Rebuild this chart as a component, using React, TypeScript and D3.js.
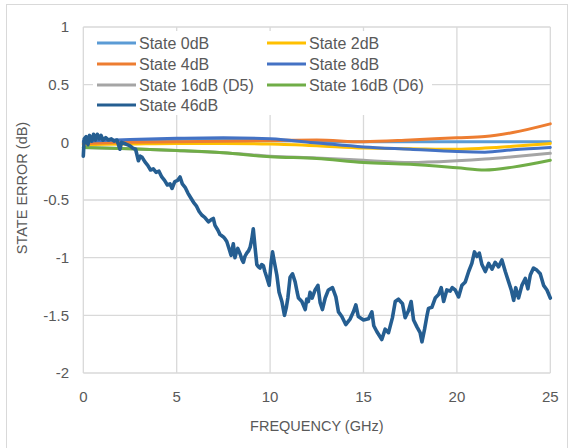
import React from 'react';
import * as d3 from 'd3';

const X_TICKS = [0, 5, 10, 15, 20, 25];
const Y_TICKS = [1, 0.5, 0, -0.5, -1, -1.5, -2];
const Y_TICK_LABELS = ['1', '0.5', '0', '-0.5', '-1', '-1.5', '-2'];
const X_TITLE = 'FREQUENCY (GHz)';
const Y_TITLE = 'STATE ERROR (dB)';

const SERIES_NAMES = ['State 0dB', 'State 2dB', 'State 4dB', 'State 8dB', 'State 16dB (D5)', 'State 16dB (D6)', 'State 46dB'];
const SERIES_COLORS = ['#5B9BD5', '#FFC000', '#ED7D31', '#4472C4', '#A5A5A5', '#70AD47', '#255E91'];

const FREQ_SMOOTH = [0, 2.5, 5, 7.5, 10, 12.5, 15, 17.5, 20, 21.5, 23, 25];
const STATE_0DB = [0.0, 0.015, 0.025, 0.03, 0.02, 0.01, 0.005, 0.005, 0.005, 0.005, 0.005, 0.005];
const STATE_2DB = [-0.02, -0.015, -0.01, -0.01, -0.015, -0.03, -0.05, -0.055, -0.06, -0.05, -0.035, -0.01];
const STATE_4DB = [-0.01, 0.0, 0.005, 0.01, 0.015, 0.02, 0.005, 0.02, 0.04, 0.05, 0.085, 0.16];
const STATE_8DB = [0.01, 0.025, 0.035, 0.04, 0.03, -0.005, -0.04, -0.06, -0.08, -0.085, -0.065, -0.045];
const STATE_16DB_D5 = [-0.045, -0.055, -0.07, -0.09, -0.12, -0.135, -0.155, -0.175, -0.16, -0.145, -0.125, -0.095];
const STATE_16DB_D6 = [-0.045, -0.055, -0.07, -0.09, -0.125, -0.14, -0.175, -0.19, -0.22, -0.24, -0.215, -0.155];

const FREQ_46 = [
  0, 0.05, 0.15, 0.25, 0.33, 0.45, 0.55, 0.65, 0.75, 0.85, 0.95, 1.05, 1.2, 1.35, 1.5, 1.65, 1.8, 1.96, 2.05, 2.2,
  2.35, 2.5, 2.65, 2.8, 2.95, 3.05, 3.15, 3.3, 3.45, 3.6, 3.75, 3.9, 4.05, 4.2, 4.35, 4.5, 4.64, 4.75, 4.9, 5.05,
  5.18, 5.3, 5.45, 5.6, 5.75, 5.9, 6.05, 6.2, 6.34, 6.5, 6.7, 6.85, 6.96, 7.05, 7.2, 7.32, 7.5, 7.6, 7.68, 7.8,
  7.91, 8.03, 8.12, 8.2, 8.27, 8.4, 8.5, 8.57, 8.65, 8.75, 8.85, 8.93, 9.02, 9.1, 9.2, 9.29, 9.38, 9.46, 9.55, 9.64,
  9.72, 9.82, 9.95, 10.05, 10.13, 10.23, 10.36, 10.48, 10.63, 10.77, 10.87, 10.95, 11.07, 11.2, 11.34, 11.45, 11.52, 11.7, 11.88, 11.96,
  12.05, 12.14, 12.25, 12.41, 12.56, 12.68, 12.8, 12.95, 13.12, 13.34, 13.52, 13.66, 13.84, 14.05, 14.29, 14.46, 14.59, 14.72, 15.0, 15.27,
  15.45, 15.55, 15.71, 15.98, 16.16, 16.34, 16.55, 16.7, 16.87, 17.09, 17.23, 17.41, 17.55, 17.68, 17.86, 18.03, 18.13, 18.27, 18.39, 18.48,
  18.66, 18.84, 19.02, 19.16, 19.29, 19.46, 19.64, 19.75, 19.91, 20.09, 20.27, 20.45, 20.63, 20.8, 20.94, 21.07, 21.2, 21.34, 21.52, 21.7,
  21.88, 22.05, 22.23, 22.41, 22.59, 22.77, 22.91, 23.04, 23.15, 23.3, 23.48, 23.66, 23.8, 23.93, 24.1, 24.29, 24.46, 24.64, 24.82, 25.0,
];
const STATE_46DB = [
  -0.12, 0.03, 0.05, -0.02, 0.06, 0.01, 0.07, 0.02, 0.07, 0.03, 0.06, 0.02, 0.04, 0.02, 0.03, 0.01, 0.02, -0.06, 0.0, -0.01,
  -0.02, -0.03, -0.05, -0.06, -0.16, -0.12, -0.13, -0.17, -0.2, -0.24, -0.23, -0.26, -0.25, -0.3, -0.33, -0.37, -0.36, -0.4, -0.34, -0.33,
  -0.3, -0.36, -0.39, -0.44, -0.48, -0.52, -0.55, -0.6, -0.63, -0.65, -0.69, -0.67, -0.66, -0.72, -0.76, -0.8, -0.82, -0.84, -0.86, -0.92,
  -0.98, -0.88, -1.0, -0.95, -0.92, -0.97, -1.02, -1.04, -0.99, -0.96, -0.94, -0.91, -0.84, -0.75, -0.92, -1.06, -1.08, -1.09, -1.06, -1.07,
  -1.12, -1.17, -1.24, -1.05, -0.95, -1.04, -1.15, -1.3, -1.38, -1.5, -1.43, -1.35, -1.17, -1.14, -1.21, -1.3, -1.35, -1.38, -1.45, -1.36,
  -1.38, -1.3, -1.35, -1.28, -1.24, -1.39, -1.45, -1.35, -1.28, -1.26, -1.34, -1.47, -1.51, -1.58, -1.53, -1.47, -1.41, -1.51, -1.54, -1.53,
  -1.47, -1.59, -1.64, -1.71, -1.62, -1.65, -1.52, -1.38, -1.36, -1.4, -1.52, -1.46, -1.38, -1.54, -1.6, -1.65, -1.73, -1.62, -1.51, -1.44,
  -1.43, -1.35, -1.32, -1.26, -1.38, -1.28, -1.29, -1.26, -1.28, -1.34, -1.24, -1.21, -1.12, -1.05, -0.95, -0.99, -0.96, -1.06, -1.12, -1.05,
  -1.1, -1.04, -1.08, -1.02, -1.12, -1.21, -1.28, -1.37, -1.26, -1.35, -1.24, -1.18, -1.27, -1.15, -1.09, -1.11, -1.14, -1.24, -1.28, -1.35,
];

const SMOOTH_SERIES = [STATE_0DB, STATE_2DB, STATE_4DB, STATE_8DB, STATE_16DB_D5, STATE_16DB_D6];

const W = 571;
const H = 448;
const PLOT = { left: 83.3, right: 550.3, top: 27, bottom: 373 };
const FONT = '"Liberation Sans", Arial, sans-serif';
const TEXT_COLOR = '#595959';
const GRID = '#d9d9d9';

export default function App() {
  const x = d3.scaleLinear().domain([0, 25]).range([PLOT.left, PLOT.right]);
  const y = d3.scaleLinear().domain([-2, 1]).range([PLOT.bottom, PLOT.top]);

  const smoothLine = d3
    .line<[number, number]>()
    .x((d) => x(d[0]))
    .y((d) => y(d[1]))
    .curve(d3.curveMonotoneX);
  const rawLine = d3
    .line<[number, number]>()
    .x((d) => x(d[0]))
    .y((d) => y(d[1]));

  const smoothPaths = SMOOTH_SERIES.map((vals) =>
    smoothLine(FREQ_SMOOTH.map((f, i) => [f, vals[i]] as [number, number]))
  );
  const path46 = rawLine(FREQ_46.map((f, i) => [f, STATE_46DB[i]] as [number, number]));

  const legendCols = [97, 267];
  const legendRows = [43, 64, 85, 105];

  return (
    <svg
      width={W}
      height={H}
      style={{ position: 'absolute', left: 0, top: 0, background: '#fff' }}
      fontFamily={FONT}
    >
      <rect x={0} y={0} width={W} height={H} fill="#fff" />
      <rect x={6.5} y={4.5} width={561} height={460} fill="none" stroke="#d9d9d9" strokeWidth={1} />

      {Y_TICKS.map((t) => (
        <line key={'gy' + t} x1={PLOT.left} x2={PLOT.right} y1={y(t)} y2={y(t)} stroke={GRID} strokeWidth={1.3} />
      ))}
      {X_TICKS.map((t) => (
        <line key={'gx' + t} x1={x(t)} x2={x(t)} y1={PLOT.top} y2={PLOT.bottom} stroke={GRID} strokeWidth={1.3} />
      ))}

      {Y_TICKS.map((t, i) => (
        <text key={'ty' + t} x={69} y={y(t)} dy="0.35em" textAnchor="end" fontSize={15} fill={TEXT_COLOR}>
          {Y_TICK_LABELS[i]}
        </text>
      ))}
      {X_TICKS.map((t) => (
        <text key={'tx' + t} x={x(t)} y={397} dy="0.35em" textAnchor="middle" fontSize={15} fill={TEXT_COLOR}>
          {t}
        </text>
      ))}

      <text x={(PLOT.left + PLOT.right) / 2} y={426} dy="0.35em" textAnchor="middle" fontSize={14.5} fill={TEXT_COLOR}>
        {X_TITLE}
      </text>
      <text
        transform={`translate(22, 188) rotate(-90)`}
        dy="0.35em"
        textAnchor="middle"
        fontSize={14.5}
        fill={TEXT_COLOR}
      >
        {Y_TITLE}
      </text>

      {smoothPaths.map((d, i) => (
        <path key={'s' + i} d={d || ''} fill="none" stroke={SERIES_COLORS[i]} strokeWidth={3} strokeLinejoin="round" strokeLinecap="round" />
      ))}
      <path d={path46 || ''} fill="none" stroke={SERIES_COLORS[6]} strokeWidth={3.6} strokeLinejoin="round" strokeLinecap="round" />

      <rect x={93} y={31} width={339} height={84} fill="#fff" />
      {SERIES_NAMES.map((name, i) => {
        const cx = legendCols[i % 2];
        const cy = legendRows[Math.floor(i / 2)];
        return (
          <g key={'lg' + i}>
            <line x1={cx} x2={cx + 39} y1={cy} y2={cy} stroke={SERIES_COLORS[i]} strokeWidth={3} />
            <text x={cx + 42} y={cy} dy="0.35em" fontSize={16} fill={TEXT_COLOR}>
              {name}
            </text>
          </g>
        );
      })}
    </svg>
  );
}
